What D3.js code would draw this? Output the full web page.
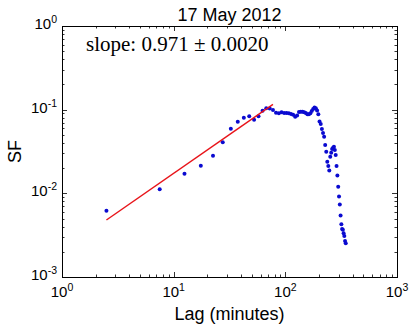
<!DOCTYPE html>
<html>
<head>
<meta charset="utf-8">
<script src="https://cdn.jsdelivr.net/npm/d3@7"></script>
<style>
  body { margin: 0; background: #fff; }
  text { font-family: "Liberation Sans", Arial, sans-serif; }
</style>
</head>
<body>
<div id="chart"></div>
<script>
// lag in minutes
const lags = [2.5, 7.5, 12.5, 17.5, 22.5, 27.5, 32.5, 37.5, 42.5, 47.5,
  52.5, 57.5, 62.5, 67.5, 72.5, 77.5, 82.5, 87.5, 92.5, 97.5,
  102.5, 107.5, 112.5, 117.5, 122.5, 127.5, 132.5, 137.5, 142.5, 147.5,
  152.5, 157.5, 162.5, 167.5, 172.5, 177.5, 182.5, 187.5, 192.5, 197.5,
  202.5, 207.5, 212.5, 217.5, 222.5, 227.5, 232.5, 237.5, 242.5, 247.5,
  252.5, 257.5, 262.5, 267.5, 272.5, 277.5, 282.5, 287.5, 292.5, 297.5,
  302.5, 307.5, 312.5, 317.5, 322.5, 327.5, 332.5, 337.5, 342.5, 347.5];

// structure function
const sf = [0.0062, 0.0112, 0.0172, 0.0214, 0.0282, 0.0407, 0.0593, 0.0719, 0.0802, 0.0834,
  0.076, 0.0834, 0.0973, 0.104, 0.103, 0.0991, 0.092, 0.0905, 0.093, 0.0914,
  0.0914, 0.0905, 0.0889, 0.087, 0.0825, 0.085, 0.0939, 0.0946, 0.0946, 0.0929,
  0.0914, 0.088, 0.088, 0.0905, 0.0964, 0.102, 0.106, 0.104, 0.098, 0.088,
  0.072, 0.0675, 0.0588, 0.0527, 0.0476, 0.0379, 0.0315, 0.0239, 0.0212, 0.0187,
  0.0274, 0.0306, 0.0339, 0.035, 0.0361, 0.033, 0.0288, 0.0212, 0.0163, 0.012,
  0.00914, 0.00733, 0.00542, 0.00428, 0.00376, 0.00366, 0.00334, 0.0031, 0.0027, 0.00254];

// power-law fit line
const fitLag = [2.5, 77.5];
const fitSF = [0.0048, 0.116];

const xTickExp = [0, 1, 2, 3];
const yTickExp = [-3, -2, -1, 0];

const W = 415, H = 331;
const L = 62, R = 397, T = 26, B = 277;

const svg = d3.select("#chart").append("svg")
    .attr("width", W)
    .attr("height", H);

const x = d3.scaleLog().domain([1, 1000]).range([L, R]);
const y = d3.scaleLog().domain([1e-3, 1]).range([B, T]);

const isMajor = v => Math.abs(Math.log10(v) - Math.round(Math.log10(v))) < 1e-9;

// ticks, inward on all four sides
const tk = svg.append("g").attr("stroke", "#000").attr("stroke-width", 0.8);
x.ticks().forEach(v => {
    const len = isMajor(v) ? 5 : 2.5;
    const px = Math.round(x(v)) + 0.5;
    tk.append("line").attr("x1", px).attr("x2", px).attr("y1", B).attr("y2", B - len);
    tk.append("line").attr("x1", px).attr("x2", px).attr("y1", T).attr("y2", T + len);
});
y.ticks().forEach(v => {
    const len = isMajor(v) ? 5 : 2.5;
    const py = Math.round(y(v)) + 0.5;
    tk.append("line").attr("x1", L).attr("x2", L + len).attr("y1", py).attr("y2", py);
    tk.append("line").attr("x1", R).attr("x2", R - len).attr("y1", py).attr("y2", py);
});

// tick labels
xTickExp.forEach(e => {
    const t = svg.append("text")
        .attr("x", x(Math.pow(10, e)))
        .attr("y", 297)
        .attr("text-anchor", "middle")
        .attr("font-size", 15);
    t.append("tspan").text("10");
    t.append("tspan").attr("dy", -6).attr("font-size", 10.5).text(e);
});
yTickExp.forEach(e => {
    const t = svg.append("text")
        .attr("x", 57)
        .attr("y", y(Math.pow(10, e)) + 3)
        .attr("text-anchor", "end")
        .attr("font-size", 15);
    t.append("tspan").text("10");
    t.append("tspan").attr("dy", -6).attr("font-size", 10.5).text(e);
});

// data points
svg.append("g")
    .selectAll("circle")
    .data(lags.map((d, i) => [d, sf[i]]))
    .join("circle")
    .attr("cx", d => x(d[0]))
    .attr("cy", d => y(d[1]))
    .attr("r", 2)
    .attr("fill", "#0a0ad0");

// fit line
svg.append("path")
    .datum(fitLag.map((d, i) => [d, fitSF[i]]))
    .attr("d", d3.line().x(d => x(d[0])).y(d => y(d[1])))
    .attr("stroke", "#e8141a")
    .attr("stroke-width", 1.5)
    .attr("fill", "none");

// frame
svg.append("rect")
    .attr("x", L + 0.5).attr("y", T + 0.5)
    .attr("width", R - L).attr("height", B - T)
    .attr("fill", "none")
    .attr("stroke", "#000")
    .attr("stroke-width", 1);

// title and labels
svg.append("text")
    .attr("x", (L + R) / 2).attr("y", 21)
    .attr("text-anchor", "middle")
    .attr("font-size", 18)
    .text("17 May 2012");

svg.append("text")
    .attr("x", (L + R) / 2).attr("y", 320)
    .attr("text-anchor", "middle")
    .attr("font-size", 18)
    .text("Lag (minutes)");

svg.append("text")
    .attr("transform", "translate(21," + ((T + B) / 2) + ") rotate(-90)")
    .attr("text-anchor", "middle")
    .attr("font-size", 18)
    .text("SF");

svg.append("text")
    .attr("x", 86).attr("y", 51)
    .style("font-family", "'Liberation Serif', 'Times New Roman', serif")
    .attr("font-size", 21)
    .text("slope: 0.971 \u00b1 0.0020");
</script>
</body>
</html>
